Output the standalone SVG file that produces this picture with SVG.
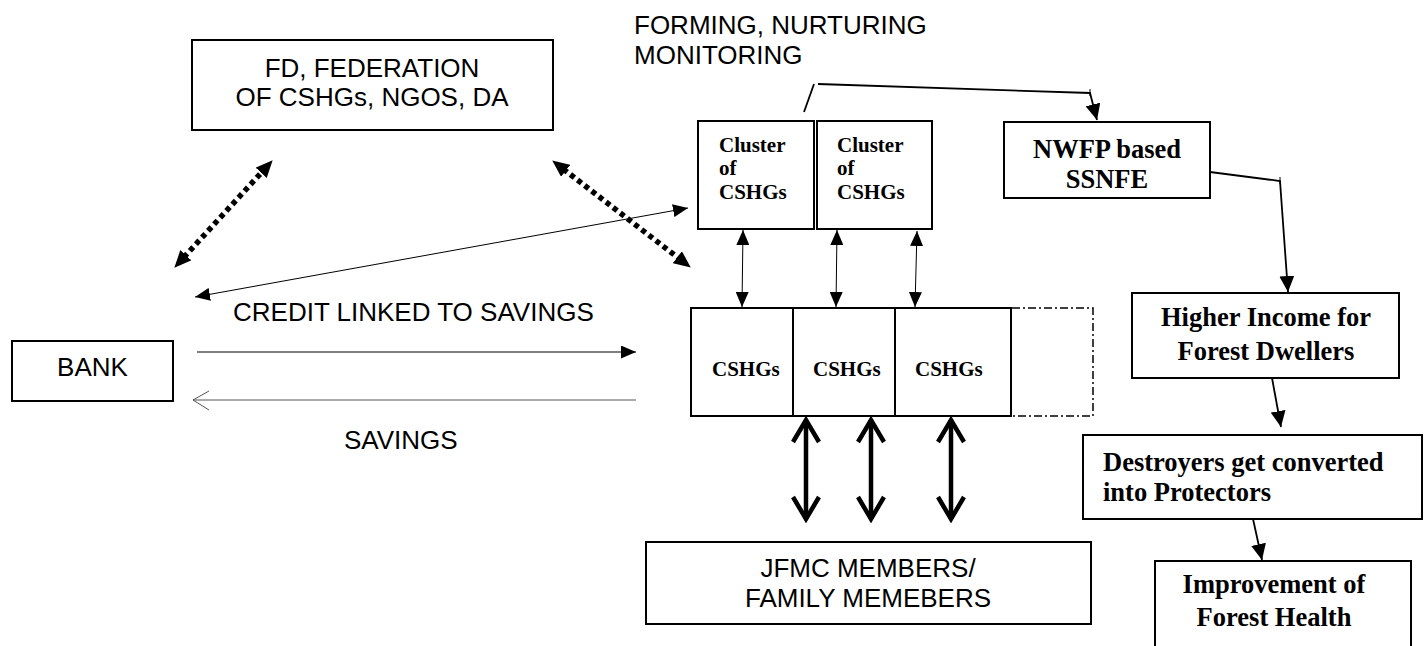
<svg xmlns="http://www.w3.org/2000/svg" width="1428" height="646" viewBox="0 0 1428 646">
<style>
.box{fill:#fff;stroke:#000;stroke-width:2}
.sans{font-family:"Liberation Sans",Arial,sans-serif;font-size:26px;fill:#000}
.serif{font-family:"Liberation Serif","Times New Roman",serif;font-weight:bold;fill:#000}
.s21{font-size:21px}
.s26{font-size:26.5px}
.thin{fill:none;stroke:#000;stroke-width:1}
.flow{fill:none;stroke:#000;stroke-width:1.8}
.dot{fill:none;stroke:#000;stroke-width:5.5;stroke-dasharray:5 4}
.bold{fill:none;stroke:#000;stroke-width:4.5}
</style>
<defs>
<marker id="big" viewBox="0 0 17 15" refX="3" refY="7.5" markerWidth="17" markerHeight="15" markerUnits="userSpaceOnUse" orient="auto-start-reverse"><path d="M0,0 L17,7.5 L0,15 z" fill="#000"/></marker>
<marker id="tip" viewBox="0 0 15 13" refX="15" refY="6.5" markerWidth="15" markerHeight="13" markerUnits="userSpaceOnUse" orient="auto-start-reverse"><path d="M0,0 L15,6.5 L0,13 z" fill="#000"/></marker>
<marker id="tip2" viewBox="0 0 16 15" refX="16" refY="7.5" markerWidth="16" markerHeight="15" markerUnits="userSpaceOnUse" orient="auto-start-reverse"><path d="M0,0 L16,7.5 L0,15 z" fill="#000"/></marker>
<marker id="chev" viewBox="-2 -16 30 32" refX="24" refY="0" markerWidth="30" markerHeight="32" markerUnits="userSpaceOnUse" orient="auto-start-reverse"><path d="M2,-13 L24,0 L2,13" fill="none" stroke="#000" stroke-width="4.5"/></marker>
</defs>

<g id="fd">
<rect class="box" x="192" y="40" width="361" height="90"/>
<text class="sans" x="372" y="77" text-anchor="middle">FD, FEDERATION</text>
<text class="sans" x="372" y="106" text-anchor="middle">OF CSHGs, NGOS, DA</text>
</g>

<g id="forming-label">
<text class="sans" x="634" y="34">FORMING, NURTURING</text>
<text class="sans" x="634" y="64">MONITORING</text>
</g>

<g id="cluster1">
<rect class="box" x="698" y="121" width="116" height="108"/>
<text class="serif s21" x="719" y="152">Cluster</text>
<text class="serif s21" x="719" y="175">of</text>
<text class="serif s21" x="719" y="199">CSHGs</text>
</g>
<g id="cluster2">
<rect class="box" x="817" y="121" width="115" height="108"/>
<text class="serif s21" x="837" y="152">Cluster</text>
<text class="serif s21" x="837" y="175">of</text>
<text class="serif s21" x="837" y="199">CSHGs</text>
</g>

<g id="nwfp">
<rect class="box" x="1004" y="122" width="206" height="76"/>
<text class="serif s26" x="1107" y="158" text-anchor="middle">NWFP based</text>
<text class="serif s26" x="1107" y="188" text-anchor="middle">SSNFE</text>
</g>

<g id="bank">
<rect class="box" x="12" y="341" width="161" height="60"/>
<text class="sans" x="92.5" y="376" text-anchor="middle">BANK</text>
</g>

<g id="credit-label"><text class="sans" x="233" y="321">CREDIT LINKED TO SAVINGS</text></g>
<g id="savings-label"><text class="sans" x="344" y="449">SAVINGS</text></g>

<g id="cshgs">
<rect class="box" x="691" y="308" width="320" height="108"/>
<line x1="793" y1="308" x2="793" y2="416" stroke="#000" stroke-width="2"/>
<line x1="895" y1="308" x2="895" y2="416" stroke="#000" stroke-width="2"/>
<text class="serif s21" x="712" y="376">CSHGs</text>
<text class="serif s21" x="813" y="376">CSHGs</text>
<text class="serif s21" x="915" y="376">CSHGs</text>
</g>

<g id="future-cshg">
<path d="M1012,308 H1093 V416 H1012" fill="none" stroke="#000" stroke-width="1.5" stroke-dasharray="8 3 2 3"/>
</g>

<g id="jfmc">
<rect class="box" x="646" y="542" width="445" height="82"/>
<text class="sans" x="868" y="577" text-anchor="middle">JFMC MEMBERS/</text>
<text class="sans" x="868" y="607" text-anchor="middle">FAMILY MEMEBERS</text>
</g>

<g id="higher">
<rect class="box" x="1132" y="293" width="267" height="85"/>
<text class="serif s26" x="1266" y="326" text-anchor="middle">Higher Income for</text>
<text class="serif s26" x="1266" y="360" text-anchor="middle">Forest Dwellers</text>
</g>

<g id="destroyers">
<rect class="box" x="1083" y="435" width="339" height="84"/>
<text class="serif s26" x="1103" y="471">Destroyers get converted</text>
<text class="serif s26" x="1103" y="501">into Protectors</text>
</g>

<g id="improvement">
<rect class="box" x="1155" y="561" width="256" height="120"/>
<text class="serif s26" x="1274" y="593" text-anchor="middle">Improvement of</text>
<text class="serif s26" x="1274" y="626" text-anchor="middle">Forest Health</text>
</g>

<g id="connectors">
<line class="dot" x1="183.8" y1="257.4" x2="263.2" y2="170.6" marker-start="url(#big)" marker-end="url(#big)"/>
<line class="dot" x1="563.3" y1="169" x2="679.7" y2="259" marker-start="url(#big)" marker-end="url(#big)"/>
<line class="thin" x1="195" y1="297" x2="688" y2="208" marker-start="url(#tip)" marker-end="url(#tip)"/>
<line class="thin" x1="197" y1="352" x2="636" y2="352" stroke="#444" marker-end="url(#tip)"/>
<line x1="193" y1="400" x2="636" y2="400" stroke="#555" stroke-width="1"/>
<polyline points="209,391 193,400 209,410" fill="none" stroke="#555" stroke-width="1"/>
<line class="thin" x1="743" y1="230" x2="742" y2="307" stroke="#333" marker-start="url(#tip)" marker-end="url(#tip)"/>
<line class="thin" x1="837" y1="230" x2="836" y2="307" stroke="#333" marker-start="url(#tip)" marker-end="url(#tip)"/>
<line class="thin" x1="917" y1="231" x2="915" y2="307" stroke="#333" marker-start="url(#tip)" marker-end="url(#tip)"/>
<line class="bold" x1="806" y1="420" x2="806" y2="519" marker-start="url(#chev)" marker-end="url(#chev)"/>
<line class="bold" x1="871" y1="420" x2="871" y2="519" marker-start="url(#chev)" marker-end="url(#chev)"/>
<line class="bold" x1="951" y1="420" x2="951" y2="519" marker-start="url(#chev)" marker-end="url(#chev)"/>
<polyline class="flow" points="804,112 814,84"/>
<polyline class="flow" points="818,84 1090,93 1097,120" marker-end="url(#tip2)"/>
<line x1="1090" y1="89" x2="1090" y2="96" stroke="#000" stroke-width="1"/>
<polyline class="flow" points="1210,172 1280,181 1288,292" marker-end="url(#tip2)"/>
<line x1="1280" y1="177" x2="1280" y2="184" stroke="#000" stroke-width="1"/>
<line class="flow" x1="1272" y1="378" x2="1281" y2="427" marker-end="url(#tip2)"/>
<line class="flow" x1="1253" y1="519" x2="1262" y2="560" marker-end="url(#tip2)"/>
</g>
</svg>
